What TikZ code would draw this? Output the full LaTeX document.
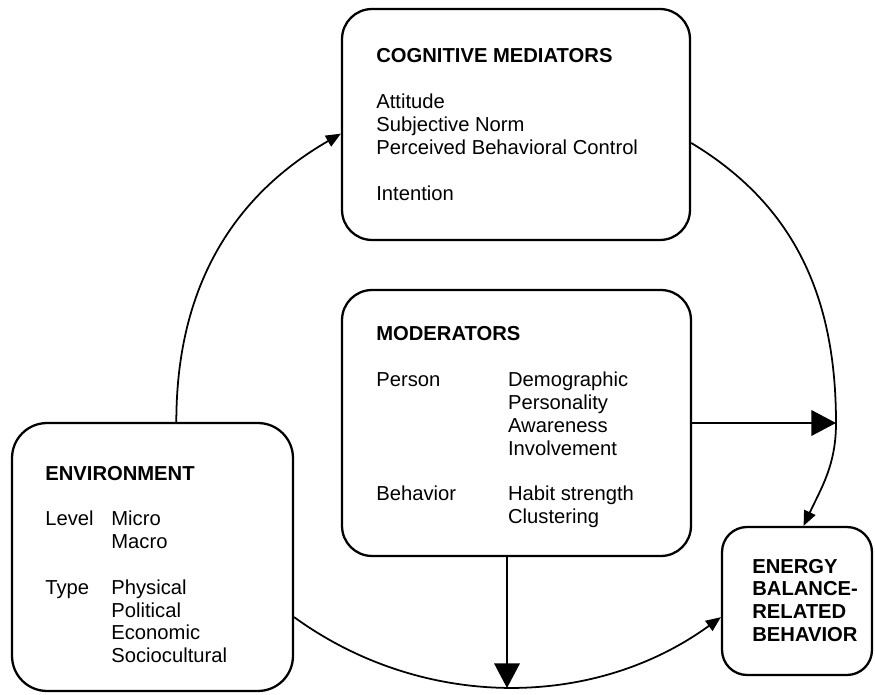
\documentclass[tikz,border=0pt]{standalone}
\usepackage{fontspec}
\setmainfont{Liberation Sans}
\usetikzlibrary{arrows.meta}

\begin{document}
\begin{tikzpicture}[x=0.02cm, y=-0.02cm,
		box/.style={draw, line width=1.3pt, rounded corners=0.6cm, inner sep=0pt},
		txt/.style={anchor=base west, inner sep=0pt, font=\fontsize{11.5}{13}\selectfont},
		curvearrow/.style={line width=1pt, -{Triangle[length=8.5pt, width=7pt]}},
		bigarrow/.style={line width=1.1pt, -{Triangle[length=14pt, width=14.5pt]}}]
		\useasboundingbox (0,0) rectangle (875,695);

		\node[box, minimum width=6.96cm, minimum height=4.62cm] (cog) at (516,124.5) {};
		\node[box, minimum width=6.98cm, minimum height=5.32cm] (mod) at (516.5,423) {};
		\node[box, minimum width=5.62cm, minimum height=5.36cm, rounded corners=0.7cm] (env) at (152.5,557) {};
		\node[box, minimum width=3cm, minimum height=2.96cm, rounded corners=0.5cm] (en) at (797,601) {};

		\node[txt] (cogtxt) at (376,63) {\begin{tabular}[t]{@{}l@{}}
			\textbf{COGNITIVE MEDIATORS}\\[13pt]
			Attitude\\
			Subjective Norm\\
			Perceived Behavioral Control\\[13pt]
			Intention
		\end{tabular}};
		\node[txt] (modtxt) at (376,341) {\begin{tabular}[t]{@{}p{75pt}@{}l@{}}
			\multicolumn{2}{@{}l@{}}{\textbf{MODERATORS}}\\[13pt]
			Person & Demographic\\
			& Personality\\
			& Awareness\\
			& Involvement\\[13pt]
			Behavior & Habit strength\\
			& Clustering
		\end{tabular}};
		\node[txt] (envtxt) at (45,480) {\begin{tabular}[t]{@{}p{37.6pt}@{}l@{}}
			\multicolumn{2}{@{}l@{}}{\textbf{ENVIRONMENT}}\\[13pt]
			Level & Micro\\
			& Macro\\[13pt]
			Type & Physical\\
			& Political\\
			& Economic\\
			& Sociocultural
		\end{tabular}};
		\node[txt] (entxt) at (752,573) {\begin{tabular}[t]{@{}l@{}}
			\textbf{ENERGY}\\
			\textbf{BALANCE-}\\
			\textbf{RELATED}\\
			\textbf{BEHAVIOR}
		\end{tabular}};

		\coordinate (rt) at (836,423);
		\coordinate (bot) at (507,688);

		\draw[curvearrow] (env.80) to[out=90, in=210] (cog.183);
		\draw[curvearrow] (cog.-6) to[out=-31, in=90] (rt) to[out=-90, in=65] (en.85);
		\draw[curvearrow] (env.-23) to[out=-36, in=-144, looseness=0.95] (en.192);

		\draw[bigarrow] (mod.east |- rt) -- (rt);
		\draw[bigarrow] (bot |- mod.south) -- (bot);
	\end{tikzpicture}
\end{document}
